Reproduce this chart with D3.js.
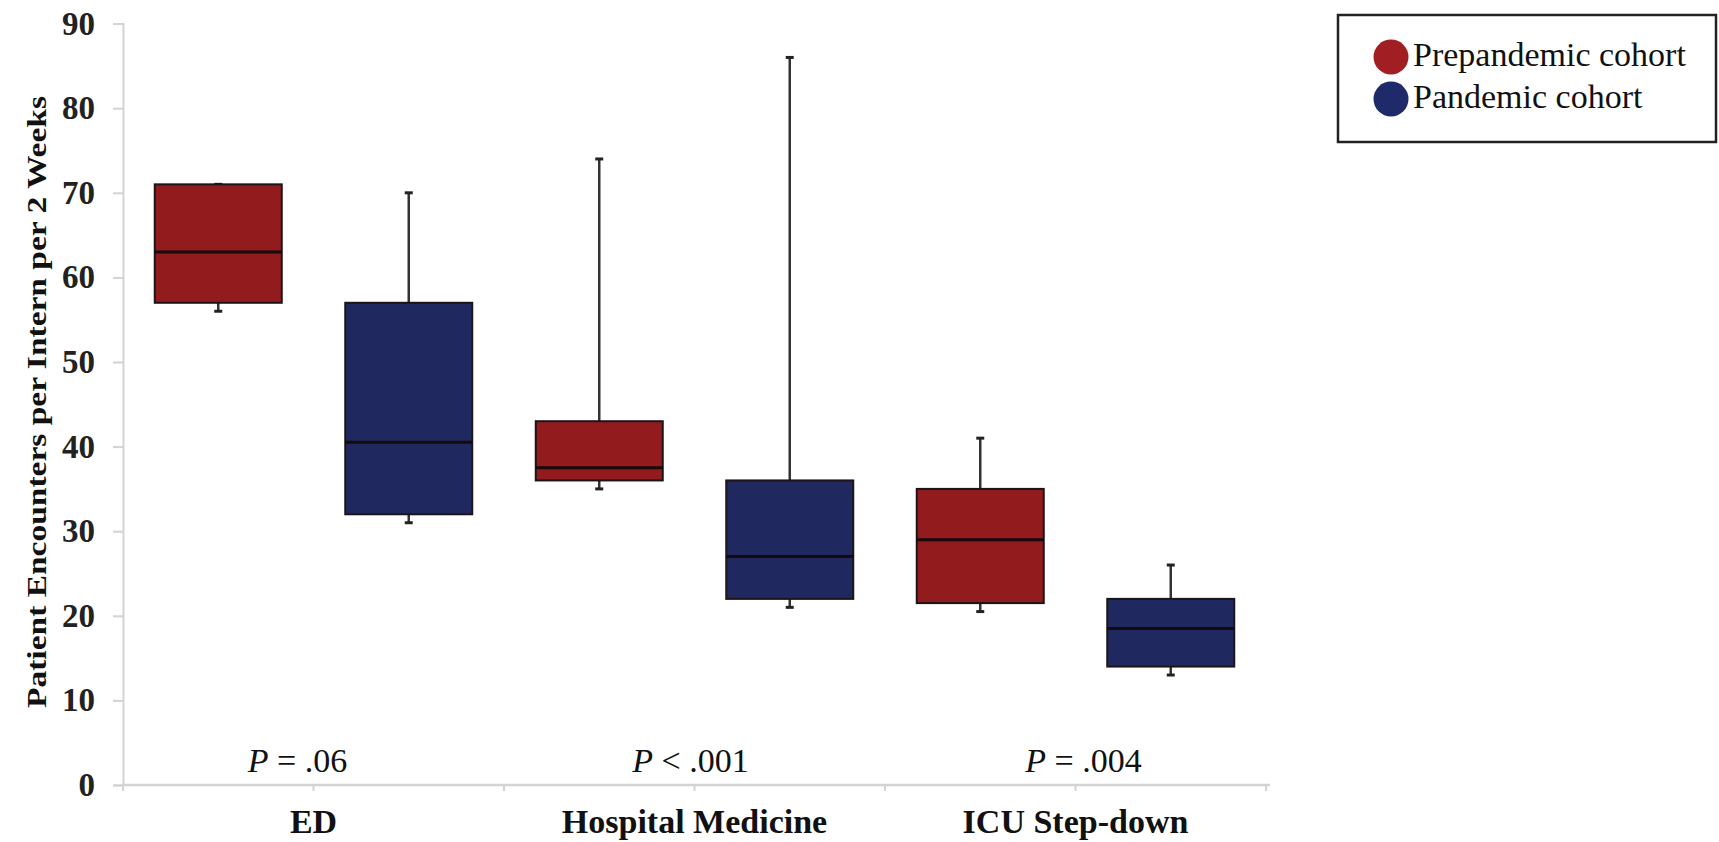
<!DOCTYPE html>
<html>
<head>
<meta charset="utf-8">
<script src="https://cdn.jsdelivr.net/npm/d3@7"></script>
<style>
  html, body { margin: 0; padding: 0; background: #ffffff; }
  svg { display: block; }
</style>
</head>
<body>
<svg id="chart" width="1719" height="842"></svg>
<script>
// ---- data ----
const categories = ["ED", "Hospital Medicine", "ICU Step-down"];
const cohorts = ["Prepandemic cohort", "Pandemic cohort"];
const pValues = ["= .06", "< .001", "= .004"];
const yTicks = [0, 10, 20, 30, 40, 50, 60, 70, 80, 90];
// five-number summaries per category, [min, q1, median, q3, max]
const prepandemic = [
  [56, 57, 63, 71, 71],
  [35, 36, 37.5, 43, 74],
  [20.5, 21.5, 29, 35, 41]
];
const pandemic = [
  [31, 32, 40.5, 57, 70],
  [21, 22, 27, 36, 86],
  [13, 14, 18.5, 22, 26]
];
const colors = ["#921b1e", "#1f2960"];
const legendColors = ["#a11f23", "#1e2a6a"];

// ---- layout ----
const svg = d3.select("#chart");
const plotLeft = 123, plotRight = 1266, plotTop = 23.6, plotBottom = 785;

const x = d3.scaleBand().domain(categories).range([plotLeft, plotRight]).paddingInner(0).paddingOuter(0);
const xSub = d3.scaleBand().domain(cohorts).range([0, x.bandwidth()]).paddingInner(1/3).paddingOuter(1/6);
const y = d3.scaleLinear().domain([0, 90]).range([plotBottom, plotTop]);

const serif = "'Liberation Serif', 'Times New Roman', serif";

// y axis
const yAxis = d3.axisLeft(y).tickValues(yTicks).tickSize(10).tickPadding(18).tickFormat(d3.format("d"));
const gy = svg.append("g").attr("transform", `translate(${plotLeft},0)`).call(yAxis);
gy.select(".domain").attr("stroke", "#d3d3d3").attr("stroke-width", 2);
gy.selectAll(".tick line").attr("stroke", "#d3d3d3").attr("stroke-width", 2);
gy.selectAll(".tick text")
  .attr("font-family", serif).attr("font-weight", "bold").attr("font-size", 33).attr("fill", "#222");

// x axis (line + ticks at category centers)
const xAxis = d3.axisBottom(x).tickSize(6).tickFormat("");
const gx = svg.append("g").attr("transform", `translate(0,${plotBottom})`).call(xAxis);
gx.select(".domain").attr("stroke", "#d3d3d3").attr("stroke-width", 2.5).attr("d", `M${plotLeft},0H${plotRight + 4}`);
gx.selectAll(".tick line").attr("stroke", "#d3d3d3").attr("stroke-width", 2);
// boundary ticks
const bounds = categories.map(c => x(c)).concat([x(categories[categories.length - 1]) + x.bandwidth()]);
gx.selectAll(".btick").data(bounds).enter().append("line")
  .attr("x1", d => d).attr("x2", d => d).attr("y1", 0).attr("y2", 6)
  .attr("stroke", "#d3d3d3").attr("stroke-width", 2);

// category labels
svg.append("g").selectAll("text").data(categories).enter().append("text")
  .attr("x", d => x(d) + x.bandwidth() / 2)
  .attr("y", 833)
  .attr("text-anchor", "middle")
  .attr("font-family", serif).attr("font-weight", "bold").attr("font-size", 34).attr("fill", "#111")
  .text(d => d);

// p-value labels
const pShift = [-16, -4, 8];
const pt = svg.append("g").selectAll("text").data(pValues).enter().append("text")
  .attr("x", (d, i) => x(categories[i]) + x.bandwidth() / 2 + pShift[i])
  .attr("y", 772)
  .attr("text-anchor", "middle")
  .attr("font-family", serif).attr("font-size", 34).attr("fill", "#111");
pt.append("tspan").attr("font-style", "italic").text("P");
pt.append("tspan").text(d => " " + d);

// y axis title
svg.append("text")
  .attr("transform", `translate(46,${(96 + 708) / 2}) rotate(-90)`)
  .attr("text-anchor", "middle")
  .attr("font-family", serif).attr("font-weight", "bold").attr("font-size", 28).attr("fill", "#111")
  .attr("textLength", 612).attr("lengthAdjust", "spacingAndGlyphs")
  .text("Patient Encounters per Intern per 2 Weeks");

// boxes
const series = [prepandemic, pandemic];
series.forEach((data, si) => {
  const g = svg.append("g");
  data.forEach((s, ci) => {
    const x0 = x(categories[ci]) + xSub(cohorts[si]);
    const w = xSub.bandwidth();
    const cx = x0 + w / 2;
    const [mn, q1, med, q3, mx] = s;
    // whiskers
    g.append("line").attr("x1", cx).attr("x2", cx).attr("y1", y(q3)).attr("y2", y(mx))
      .attr("stroke", "#333").attr("stroke-width", 2.5);
    g.append("line").attr("x1", cx).attr("x2", cx).attr("y1", y(q1)).attr("y2", y(mn))
      .attr("stroke", "#333").attr("stroke-width", 2.5);
    [mx, mn].forEach(v => {
      g.append("line").attr("x1", cx - 4).attr("x2", cx + 4).attr("y1", y(v)).attr("y2", y(v))
        .attr("stroke", "#222").attr("stroke-width", 3);
    });
    // box
    g.append("rect").attr("x", x0).attr("y", y(q3)).attr("width", w).attr("height", y(q1) - y(q3))
      .attr("fill", colors[si]).attr("stroke", "#1c1416").attr("stroke-width", 2);
    // median
    g.append("line").attr("x1", x0).attr("x2", x0 + w).attr("y1", y(med)).attr("y2", y(med))
      .attr("stroke", "#160a0c").attr("stroke-width", 3);
  });
});

// legend
const lg = svg.append("g");
lg.append("rect").attr("x", 1338).attr("y", 15).attr("width", 378).attr("height", 127)
  .attr("fill", "#fff").attr("stroke", "#222").attr("stroke-width", 2.5);
cohorts.forEach((c, i) => {
  const cy = 57 + i * 42;
  lg.append("circle").attr("cx", 1391).attr("cy", cy).attr("r", 17.5).attr("fill", legendColors[i]);
  lg.append("text").attr("x", 1413).attr("y", cy + 9)
    .attr("font-family", serif).attr("font-size", 34).attr("fill", "#111")
    .text(c);
});
</script>
</body>
</html>
